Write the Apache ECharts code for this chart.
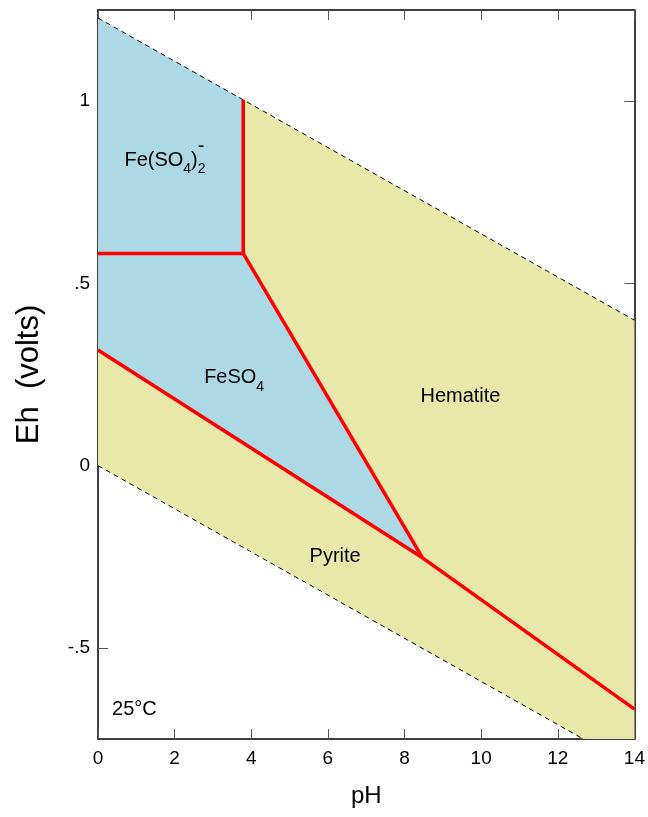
<!DOCTYPE html>
<html>
<head>
<meta charset="utf-8">
<script src="https://cdn.jsdelivr.net/npm/echarts@6/dist/echarts.min.js"></script>
<style>
  html, body { margin: 0; padding: 0; background: #fff; }
  #chart { width: 648px; height: 817px; }
</style>
</head>
<body>
<div id="chart"></div>
<script>
// Eh-pH diagram, Fe-S-O-H system at 25°C
const xTicks = [0, 2, 4, 6, 8, 10, 12, 14]
const yTicks = [-0.5, 0, 0.5, 1]
const yTickLabels = ['-.5', '0', '.5', '1']

// water stability limits
const upperWater = [[0, 1.228], [14, 0.399]]
const lowerWater = [[0, 0], [14, -0.829]]

// field boundaries (red)
const ferricSulfateBoundary = [[0, 0.582], [3.79, 0.582]]
const ferricHematiteBoundary = [[3.79, 0.582], [3.79, 1.004]]
const ferrousHematiteBoundary = [[3.79, 0.582], [8.47, -0.253]]
const pyriteBoundary = [[0, 0.317], [8.47, -0.253], [14, -0.668]]

// filled fields
const aqueousField = [[0, 1.228], [3.79, 1.004], [3.79, 0.582], [8.47, -0.253], [0, 0.317]]
const solidField = [[3.79, 1.004], [14, 0.399], [14, -0.75], [12.67, -0.75], [0, 0], [0, 0.317], [8.47, -0.253], [3.79, 0.582]]

// text in the fields
const fieldLabels = [
  { text: 'Fe(SO{s|4}){s|2}', at: [0.69, 0.837], align: 'left' },
  { text: '-', at: [2.69, 0.875], align: 'center' },
  { text: 'FeSO{s|4}', at: [2.77, 0.241], align: 'left' },
  { text: 'Hematite', at: [9.46, 0.189], align: 'center' },
  { text: 'Pyrite', at: [6.19, -0.249], align: 'center' },
  { text: '25°C', at: [0.95, -0.668], align: 'center' }
]

const font = '"Liberation Sans", Arial, sans-serif'

var myChart = echarts.init(document.getElementById('chart'))

const fills = [
  { pts: aqueousField, color: '#ADD8E6' },
  { pts: solidField, color: '#E8E8AA' }
]

function redLine(data) {
  return {
    type: 'line',
    data: data,
    showSymbol: false,
    silent: true,
    z: 4,
    lineStyle: { color: '#FF0000', width: 3.5 }
  }
}

function waterLine(data) {
  return {
    type: 'line',
    data: data,
    showSymbol: false,
    silent: true,
    z: 3,
    lineStyle: { color: '#000', width: 1, type: [5, 4] }
  }
}

const frameLine = { show: true, onZero: false, lineStyle: { color: '#000', width: 1.5 } }
const innerTick = { show: true, inside: true, length: 10, lineStyle: { color: '#555' } }

let option = {
  animation: false,
  grid: { left: 98, right: 10, top: 10, bottom: 78 },
  xAxis: [
    {
      type: 'value',
      min: 0,
      max: 14,
      interval: 2,
      position: 'bottom',
      name: 'pH',
      nameLocation: 'middle',
      nameGap: 45,
      nameTextStyle: { fontSize: 24, color: '#000', fontFamily: font },
      axisLine: frameLine,
      axisTick: innerTick,
      axisLabel: { fontSize: 19, color: '#000', margin: 10, fontFamily: font },
      splitLine: { show: false }
    },
    {
      type: 'value',
      min: 0,
      max: 14,
      interval: 2,
      position: 'top',
      axisLine: frameLine,
      axisTick: innerTick,
      axisLabel: { show: false },
      splitLine: { show: false }
    }
  ],
  yAxis: [
    {
      type: 'value',
      min: -0.75,
      max: 1.25,
      position: 'left',
      name: 'Eh  (volts)',
      nameLocation: 'middle',
      nameGap: 53,
      nameTextStyle: { fontSize: 31, color: '#000', fontFamily: font },
      axisLine: frameLine,
      axisTick: Object.assign({ customValues: yTicks }, innerTick),
      axisLabel: {
        fontSize: 19,
        color: '#000',
        margin: 8,
        fontFamily: font,
        customValues: yTicks,
        formatter: function (v) {
          const i = yTicks.indexOf(v)
          return i >= 0 ? yTickLabels[i] : ''
        }
      },
      splitLine: { show: false }
    },
    {
      type: 'value',
      min: -0.75,
      max: 1.25,
      position: 'right',
      axisLine: frameLine,
      axisTick: Object.assign({ customValues: yTicks }, innerTick),
      axisLabel: { show: false },
      splitLine: { show: false }
    }
  ],
  series: [
    {
      type: 'custom',
      silent: true,
      z: 1,
      renderItem: function (params, api) {
        const f = fills[params.dataIndex]
        return {
          type: 'polygon',
          shape: { points: f.pts.map(p => api.coord(p)) },
          style: { fill: f.color }
        }
      },
      data: fills.map((f, i) => [i, 0])
    },
    waterLine(upperWater),
    waterLine(lowerWater),
    redLine(ferricSulfateBoundary),
    redLine(ferricHematiteBoundary),
    redLine(ferrousHematiteBoundary),
    redLine(pyriteBoundary),
    {
      type: 'scatter',
      symbolSize: 0,
      silent: true,
      z: 5,
      itemStyle: { opacity: 1 },
      data: fieldLabels.map(l => ({
        value: l.at,
        label: {
          show: true,
          position: 'inside',
          align: l.align,
          verticalAlign: 'middle',
          formatter: l.text,
          fontSize: 20,
          lineHeight: 32,
          color: '#000',
          textBorderWidth: 0,
          fontFamily: font,
          rich: {
            s: { fontSize: 14, lineHeight: 14, verticalAlign: 'bottom', color: '#000', textBorderWidth: 0, fontFamily: font }
          }
        }
      }))
    }
  ]
}

myChart.setOption(option)
window.onresize = function () {
  myChart.resize()
}
</script>
</body>
</html>
